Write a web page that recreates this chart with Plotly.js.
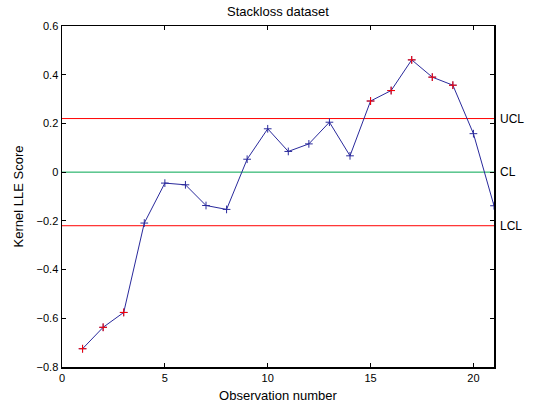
<!DOCTYPE html>
<html>
<head>
<meta charset="utf-8">
<script src="https://cdn.plot.ly/plotly-3.0.1.min.js"></script>
<style>html,body{margin:0;padding:0;background:#fff;}#chart{width:535px;height:407px;}</style>
</head>
<body>
<div id="chart"></div>
<script>
const obs = [1,2,3,4,5,6,7,8,9,10,11,12,13,14,15,16,17,18,19,20,21];
const score = [-0.725,-0.637,-0.576,-0.209,-0.045,-0.052,-0.137,-0.153,0.053,0.178,0.085,0.116,0.205,0.067,0.292,0.335,0.461,0.390,0.357,0.158,-0.138];
const UCL = 0.22, CL = 0, LCL = -0.22;
const limitLabels = ['UCL','CL','LCL'];
const limitValues = [UCL, CL, LCL];
const xTicks = [0,5,10,15,20];
const yTicks = [-0.8,-0.6,-0.4,-0.2,0,0.2,0.4,0.6];

const outX = [], outY = [];
obs.forEach((o,i)=>{ if(score[i]>UCL || score[i]<LCL){ outX.push(o); outY.push(score[i]); }});

const xr = [0,21];
const traces = [
  {x:xr, y:[UCL,UCL], mode:'lines', line:{color:'#ff0000', width:1}, hoverinfo:'skip'},
  {x:xr, y:[CL,CL], mode:'lines', line:{color:'#00a651', width:1}, hoverinfo:'skip'},
  {x:xr, y:[LCL,LCL], mode:'lines', line:{color:'#ff0000', width:1}, hoverinfo:'skip'},
  {x:obs, y:score, mode:'lines+markers', line:{color:'#2a2a9c', width:1},
   marker:{symbol:'cross-thin', size:5.5, color:'#2a2a9c', line:{color:'#2a2a9c', width:1}}},
  {x:outX, y:outY, mode:'markers',
   marker:{symbol:'cross-thin', size:5.5, color:'#ff0000', line:{color:'#ff0000', width:1}}}
];

const font = {family:'Liberation Sans, Arial, sans-serif', size:11, color:'#000'};
const bigFont = {...font, size:13};
const layout = {
  width:535, height:407,
  margin:{l:62, r:41, t:26, b:40},
  paper_bgcolor:'#fff', plot_bgcolor:'#fff',
  showlegend:false,
  font:font,
  title:{text:'Stackloss dataset', font:bigFont, x:0.5, xref:'paper', y:0.972, yref:'container', yanchor:'middle'},
  xaxis:{range:xr, tickvals:xTicks, ticks:'inside', ticklen:4, tickwidth:1, tickcolor:'#000',
    showline:true, linecolor:'#000', linewidth:1.5, mirror:'ticks', showgrid:false, zeroline:false,
    title:{text:'Observation number', font:bigFont, standoff:8}, tickfont:font},
  yaxis:{range:[-0.8,0.6], tickvals:yTicks, ticktext:yTicks.map(v=>v===0?'0':(v<0?'\u2212':'')+Math.abs(v).toFixed(1)),
    ticks:'inside', ticklen:4, tickwidth:1, tickcolor:'#000',
    showline:true, linecolor:'#000', linewidth:1.5, mirror:'ticks', showgrid:false, zeroline:false,
    title:{text:'Kernel LLE Score', font:bigFont, standoff:10}, tickfont:font},
  annotations: limitLabels.map((t,i)=>({text:t, x:1, xref:'paper', y:limitValues[i], yref:'y',
    xanchor:'left', yanchor:'middle', xshift:4, showarrow:false, font:{...font, size:12}}))
};
Plotly.newPlot('chart', traces, layout, {displayModeBar:false, staticPlot:true});
</script>
</body>
</html>
